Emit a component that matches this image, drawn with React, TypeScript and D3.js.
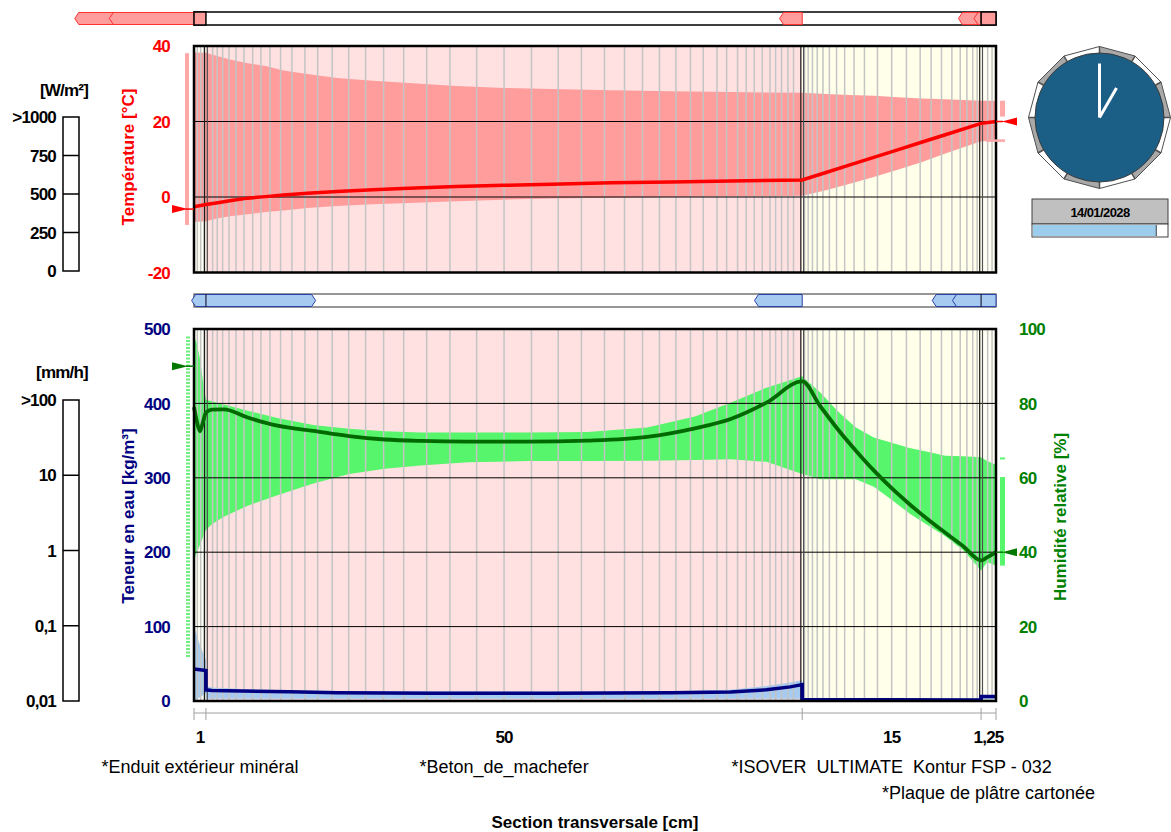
import React from "react";
import * as d3 from "d3";

// ---------------- data ----------------
const layerNames = [
  "*Enduit extérieur minéral",
  "*Beton_de_machefer",
  "*ISOVER  ULTIMATE  Kontur FSP - 032",
  "*Plaque de plâtre cartonée",
];
const layerThickness = [1, 50, 15, 1.25];
const layerTickLabels = ["1", "50", "15", "1,25"];
const layerFill = ["#FFFFF2", "#FFE1E1", "#FFFFEA", "#FFFFF4"];
const layerNameRow = [0, 0, 0, 1];

const tempTicks = [40, 20, 0, -20];
const tempGrid = [20, 0];
const wcTicks = [500, 400, 300, 200, 100, 0];
const wcGrid = [400, 300, 200, 100];
const rhTicks = [100, 80, 60, 40, 20, 0];

const radTicks = [0, 250, 500, 750, 1000];
const radLabels = ["0", "250", "500", "750", ">1000"];
const rainTicks = [0.01, 0.1, 1, 10, 100];
const rainLabels = ["0,01", "0,1", "1", "10", ">100"];

// numerical mesh (cm)
const meshLines = [
  0.28, 0.56, 0.84,
  1.56, 1.95, 2.4, 2.93, 3.52, 4.19, 4.92, 5.61, 6.37, 7.26, 8.21, 9.3, 10.37, 11.59, 12.97,
  14.39, 15.9, 17.58, 19.51, 21.46, 23.7, 26.0, 28.3, 30.54, 32.49, 34.42, 36.1, 37.61, 39.03,
  40.41, 41.63, 42.7, 43.85, 44.66, 45.58, 46.3, 46.98, 47.65, 48.3, 48.77, 49.27, 49.8, 50.27,
  51.19, 51.5, 51.86, 52.26, 52.74, 53.28, 53.88, 54.56, 55.35, 56.22, 57.31, 58.5, 59.74,
  60.89, 61.81, 62.68, 63.55, 64.25, 64.81, 65.3, 65.67,
  66.55, 66.92,
];

// temperature profile (cm, °C)
const tempPos = [0, 1, 2, 3, 4.5, 6, 7.5, 9.5, 12, 15, 18, 22, 26, 30, 35, 40, 45, 51, 53, 55, 57, 59, 61, 63, 66, 67.25];
const tempMax = [38.3, 38.2, 37.3, 36.4, 35.4, 34.7, 33.5, 32.6, 31.5, 30.8, 30.2, 29.4, 28.9, 28.6, 28.3, 28.0, 27.8, 27.6, 27.3, 27.0, 26.8, 26.4, 26.1, 25.9, 25.5, 25.5];
const tempMin = [-6.6, -6.4, -5.6, -5.1, -4.6, -4.0, -3.6, -2.9, -2.4, -1.9, -1.6, -1.1, -0.7, -0.4, -0.2, 0, 0.1, 0.3, 1.8, 3.5, 5.3, 7.2, 9.2, 11.5, 14.8, 15];
const tempNow = [-2.6, -2.0, -1.5, -1.0, -0.3, 0.1, 0.55, 1.0, 1.45, 1.9, 2.3, 2.75, 3.1, 3.4, 3.8, 4.0, 4.25, 4.5, 6.5, 8.5, 10.5, 12.5, 14.5, 16.5, 19.5, 20.0];

// relative humidity profile (cm, %)
const rhPos = [0, 0.25, 0.5, 0.75, 1, 1.5, 2.5, 4.5, 7, 10, 13, 16, 19, 23, 28, 33, 38, 42, 45, 48, 51, 52.5, 54, 55.5, 57, 58.5, 60, 61.5, 63, 64.5, 66, 66.5, 67.25];
const rhNow = [79, 75, 72.5, 75, 77.5, 78.3, 78.4, 76.2, 74, 72.6, 71.2, 70.3, 69.9, 69.7, 69.7, 70.0, 71.0, 73.3, 75.8, 80.2, 85.9, 79.3, 73, 67.3, 62.0, 57.2, 52.9, 48.9, 45.2, 41.6, 37.8, 38.6, 40];
const rhMax = [98, 96, 92, 86, 81, 80.6, 79.7, 78, 76.1, 74.2, 73.2, 72.5, 72.2, 72.2, 72.2, 72.3, 73.5, 76.5, 80.2, 84.2, 87.3, 83, 77.8, 73.5, 70.8, 69.4, 68, 67, 65.9, 65.8, 65.5, 64.5, 63.5];
const rhMin = [38, 40, 42, 44, 46, 47.5, 49.5, 52.5, 55.3, 58.5, 61, 62.4, 63.3, 64.2, 64.5, 64.5, 64.6, 64.8, 65, 64.3, 61, 59.6, 59.6, 59.6, 57.6, 54.1, 50.4, 47.3, 44.3, 40.5, 35.1, 37.3, 36.4];

// water content profile (cm, kg/m³)
const wcPos = [0, 0.5, 1, 1, 1.5, 4, 8, 12, 20, 30, 40, 45, 48, 50, 51, 51, 66, 66, 67.25];
const wcNow = [43, 42, 41, 15, 14, 13.5, 12.5, 11, 10.5, 10.5, 11, 12, 15, 19, 22, 2, 1.5, 6, 6];
const wcMax = [100, 75, 55, 20, 18, 16, 14.5, 13.5, 13, 12.5, 13, 15, 20, 25, 28, 3, 3, 8, 8];
const wcMin = [0, 5, 10, 3, 3, 3, 3, 3, 3, 3, 3, 3, 3, 3, 3, 0, 0, 2, 2];

// boundary conditions
const outdoorTempRange = [-7.4, 38.1];
const outdoorTemp = -3.2;
const indoorTempRange = [21.3, 25.5];
const indoorTempLow = 15;
const indoorTemp = 20;
const outdoorRHRange = [11.5, 98];
const outdoorRH = 90;
const indoorRHRange = [36.4, 60.2];
const indoorRHMarks = [65.2, 45.6];
const indoorRH = 40;

// flux indicators (cm)
const heatFluxStart = [-10, 49.1, 64.1];
const heatFluxEnd = [0, 51, 66];
const heatFluxHeads = [[-10, -7.1], [49.1], [64.1, 65.4]];
const heatFilledLayers = [0, 3];
const moistFluxStart = [-0.2, 47.0, 61.9];
const moistFluxEnd = [10.2, 51, 67.25];
const moistFluxHeads = [[-0.2], [47.0], [61.9, 63.6]];
const moistFluxRightTip = [true, false, false];

const dateLabel = "14/01/2028";
const progress = 0.92;
const clockHour = 1;
const clockMinute = 0;

// ---------------- component ----------------
const FONT = "'Liberation Sans', Arial, Helvetica, sans-serif";

function fluxPath(x0: number, x1: number, y0: number, y1: number, lt: boolean, rt: boolean, tip = 4) {
  const ym = (y0 + y1) / 2;
  const a = lt ? x0 + tip : x0;
  const b = rt ? x1 - tip : x1;
  let d = `M${a},${y0} L${b},${y0} `;
  d += rt ? `L${x1},${ym} L${b},${y1} ` : `L${x1},${y1} `;
  d += `L${a},${y1} `;
  d += lt ? `L${x0},${ym} Z` : "Z";
  return d;
}

export default function App() {
  const total = d3.sum(layerThickness);
  const bounds = [0, ...Array.from(d3.cumsum(layerThickness))];
  const x = d3.scaleLinear().domain([0, total]).range([194, 996]);
  const yT = d3.scaleLinear().domain([-20, 40]).range([272.5, 46]);
  const yW = d3.scaleLinear().domain([0, 500]).range([701, 329]);
  const yR = d3.scaleLinear().domain([0, 100]).range([701, 329]);
  const yRad = d3.scaleLinear().domain([0, 1000]).range([271, 117]);
  const yRain = d3.scaleLog().domain([0.01, 100]).range([701, 400]);

  const tTop = yT(40), tBot = yT(-20);
  const bTop = yW(500), bBot = yW(0);
  const X0 = x(0), X1 = x(total);

  const tBand = d3.area<number>().x((_, i) => x(tempPos[i])).y0((_, i) => yT(tempMin[i])).y1((d) => yT(d))(tempMax) || "";
  const tLine = d3.line<number>().x((_, i) => x(tempPos[i])).y((d) => yT(d))(tempNow) || "";
  const rBand = d3.area<number>().x((_, i) => x(rhPos[i])).y0((_, i) => yR(rhMin[i])).y1((d) => yR(d))(rhMax) || "";
  const rLine = d3.line<number>().x((_, i) => x(rhPos[i])).y((d) => yR(d)).curve(d3.curveMonotoneX)(rhNow) || "";
  const wBand = d3.area<number>().x((_, i) => x(wcPos[i])).y0((_, i) => yW(wcMin[i])).y1((d) => yW(d))(wcMax) || "";
  const wLine = d3.line<number>().x((_, i) => x(wcPos[i])).y((d) => yW(d))(wcNow) || "";

  const layerRects = (y0: number, y1: number) =>
    layerThickness.map((_, i) => (
      <rect key={i} x={x(bounds[i])} y={y0} width={x(bounds[i + 1]) - x(bounds[i])} height={y1 - y0} fill={layerFill[i]} />
    ));
  const mesh = (y0: number, y1: number) =>
    meshLines.map((m, i) => <line key={i} x1={x(m)} x2={x(m)} y1={y0} y2={y1} stroke="#C4C4C4" strokeWidth={1.5} />);
  const boundaryLines = (y0: number, y1: number) =>
    bounds.slice(1, -1).map((b, i) => (
      <g key={i}>
        <line x1={x(b) - 1.4} x2={x(b) - 1.4} y1={y0} y2={y1} stroke="#1a1a1a" strokeWidth={1.2} />
        <line x1={x(b) + 1.4} x2={x(b) + 1.4} y1={y0} y2={y1} stroke="#505050" strokeWidth={1.2} />
      </g>
    ));

  // clock
  const cx = 1099.5, cy = 117.5, R = 71, r = 64.5;
  const vert = (k: number, rad: number) => [cx + rad * Math.sin((k * Math.PI) / 6), cy - rad * Math.cos((k * Math.PI) / 6)];
  const minAng = (clockMinute / 60) * 2 * Math.PI;
  const hrAng = ((clockHour % 12) / 12 + clockMinute / 720) * 2 * Math.PI;

  const boldNum = { fontFamily: FONT, fontWeight: 700, fontSize: 17, letterSpacing: -0.8 } as const;

  return (
    <svg width={1171} height={832} style={{ position: "absolute", left: 0, top: 0, background: "#fff" }}>
      {/* ======== top layer bar (heat flux) ======== */}
      <rect x={X0} y={12} width={X1 - X0} height={13} fill="#fff" stroke="#000" strokeWidth={1.5} />
      {heatFluxStart.map((s, i) => (
        <g key={i}>
          <path d={fluxPath(x(s), x(heatFluxEnd[i]), 12.5, 24.5, true, false)} fill="#FF9D9D" stroke="#FF3030" strokeWidth={1} />
          {heatFluxHeads[i].slice(1).map((h, j) => (
            <path key={j} d={`M${x(h) + 4},12.5 L${x(h)},18.5 L${x(h) + 4},24.5`} fill="none" stroke="#FF3030" strokeWidth={1} />
          ))}
        </g>
      ))}
      {heatFilledLayers.map((l) => (
        <rect key={l} x={x(bounds[l])} y={12} width={x(bounds[l + 1]) - x(bounds[l])} height={13} fill="#FF9D9D" stroke="#000" strokeWidth={1.5} />
      ))}

      {/* ======== top chart ======== */}
      {layerRects(tTop, tBot)}
      <path d={tBand} fill="#FF9D9D" />
      {mesh(tTop, tBot)}
      {tempGrid.map((t) => (
        <line key={t} x1={X0} x2={X1} y1={yT(t)} y2={yT(t)} stroke="#000" strokeWidth={1} />
      ))}
      {boundaryLines(tTop, tBot)}
      <path d={tLine} fill="none" stroke="#FF0000" strokeWidth={3.5} />
      <rect x={X0} y={tTop} width={X1 - X0} height={tBot - tTop} fill="none" stroke="#000" strokeWidth={2.5} />

      {/* boundary conditions (temperature) */}
      <rect x={185} y={yT(outdoorTempRange[1])} width={4} height={yT(outdoorTempRange[0]) - yT(outdoorTempRange[1])} fill="#FFA8A8" />
      <line x1={186} x2={194} y1={yT(outdoorTemp)} y2={yT(outdoorTemp)} stroke="#FF0000" strokeWidth={1.5} />
      <path d={`M172,${yT(outdoorTemp) - 4} L188,${yT(outdoorTemp)} L172,${yT(outdoorTemp) + 4} Z`} fill="#FF0000" />
      <rect x={1000} y={yT(indoorTempRange[1])} width={5} height={yT(indoorTempRange[0]) - yT(indoorTempRange[1])} fill="#FFA8A8" />
      <rect x={986} y={yT(indoorTempLow) - 1} width={19} height={2.5} fill="#FFA8A8" />
      <line x1={996} x2={1003} y1={yT(indoorTemp)} y2={yT(indoorTemp)} stroke="#FF0000" strokeWidth={1.5} />
      <path d={`M1017,${yT(indoorTemp) - 4} L1002,${yT(indoorTemp)} L1017,${yT(indoorTemp) + 4} Z`} fill="#FF0000" />

      {/* temperature axis */}
      {tempTicks.map((t) => (
        <text key={t} x={170} y={yT(t)} dy="0.36em" textAnchor="end" fill="#FF0000" {...boldNum}>
          {t}
        </text>
      ))}
      <text transform="translate(128,157) rotate(-90)" textAnchor="middle" dy="0.36em" fill="#FF0000" fontFamily={FONT} fontWeight={700} fontSize={17}>
        Température [°C]
      </text>

      {/* radiation scale */}
      <text x={64} y={90} dy="0.36em" textAnchor="middle" fill="#000" {...boldNum}>[W/m²]</text>
      <rect x={63} y={yRad(1000)} width={16} height={yRad(0) - yRad(1000)} fill="#fff" stroke="#000" strokeWidth={1.5} />
      {radTicks.map((t, i) => (
        <g key={t}>
          {i > 0 && i < radTicks.length - 1 && <line x1={63} x2={79} y1={yRad(t)} y2={yRad(t)} stroke="#000" strokeWidth={1.5} />}
          <text x={56} y={yRad(t)} dy="0.36em" textAnchor="end" fill="#000" {...boldNum}>
            {radLabels[i]}
          </text>
        </g>
      ))}

      {/* ======== clock ======== */}
      {d3.range(12).map((k) => {
        const a = vert(k, R), b = vert(k + 1, R);
        return <path key={k} d={`M${cx},${cy} L${a[0]},${a[1]} L${b[0]},${b[1]} Z`} fill={k % 2 === 0 ? "#A9A9A9" : "#FFFFFF"} />;
      })}
      <polygon points={d3.range(12).map((k) => vert(k, R).join(",")).join(" ")} fill="none" stroke="#505050" strokeWidth={1} />
      {d3.range(12).map((k) => {
        const a = vert(k, r), b = vert(k, R);
        return <line key={k} x1={a[0]} y1={a[1]} x2={b[0]} y2={b[1]} stroke="#505050" strokeWidth={1.5} />;
      })}
      <circle cx={cx} cy={cy} r={r} fill="#1B5F87" stroke="#3a3a3a" strokeWidth={1} />
      <line x1={cx} y1={cy} x2={cx + 54 * Math.sin(minAng)} y2={cy - 54 * Math.cos(minAng)} stroke="#fff" strokeWidth={3} />
      <line x1={cx} y1={cy} x2={cx + 34 * Math.sin(hrAng)} y2={cy - 34 * Math.cos(hrAng)} stroke="#fff" strokeWidth={3} />

      <rect x={1032} y={199} width={136} height={25} fill="#C0C0C0" stroke="#404040" strokeWidth={1} />
      <text x={1100} y={212} dy="0.36em" textAnchor="middle" fontFamily={FONT} fontWeight={700} fontSize={13} letterSpacing={-0.6} fill="#000">
        {dateLabel}
      </text>
      <rect x={1032} y={224} width={136} height={13} fill="#fff" stroke="#404040" strokeWidth={1} />
      <rect x={1033} y={225} width={134 * progress} height={11} fill="#9DCDED" />
      <line x1={1033 + 134 * progress} x2={1033 + 134 * progress} y1={225} y2={236} stroke="#404040" strokeWidth={1} />

      {/* ======== bottom layer bar (moisture flux) ======== */}
      <rect x={X0} y={294} width={X1 - X0} height={13} fill="#fff" stroke="#505050" strokeWidth={1.2} />
      {moistFluxStart.map((s, i) => (
        <g key={i}>
          <path d={fluxPath(x(s), x(moistFluxEnd[i]), 294.5, 306.5, true, moistFluxRightTip[i])} fill="#A6CAF0" stroke="#2840A8" strokeWidth={1} />
          {moistFluxHeads[i].slice(1).map((h, j) => (
            <path key={j} d={`M${x(h) + 4},294.5 L${x(h)},300.5 L${x(h) + 4},306.5`} fill="none" stroke="#2840A8" strokeWidth={1} />
          ))}
        </g>
      ))}
      {[bounds[1], bounds[3]].map((b, i) => (
        <line key={i} x1={x(b)} x2={x(b)} y1={294} y2={307} stroke="#202040" strokeWidth={1.2} />
      ))}

      {/* ======== bottom chart ======== */}
      {layerRects(bTop, bBot)}
      <path d={rBand} fill="#57F56B" />
      <path d={wBand} fill="#A6CAF0" />
      {mesh(bTop, bBot)}
      {wcGrid.map((t) => (
        <line key={t} x1={X0} x2={X1} y1={yW(t)} y2={yW(t)} stroke="#000" strokeWidth={1} />
      ))}
      {boundaryLines(bTop, bBot)}
      <path d={rLine} fill="none" stroke="#006A00" strokeWidth={3.8} />
      <path d={wLine} fill="none" stroke="#000080" strokeWidth={3.5} />
      <rect x={X0} y={bTop} width={X1 - X0} height={bBot - bTop} fill="none" stroke="#000" strokeWidth={2.5} />

      {/* boundary conditions (humidity) */}
      <line x1={188} x2={188} y1={yR(outdoorRHRange[1])} y2={yR(outdoorRHRange[0])} stroke="#70EE80" strokeWidth={4} strokeDasharray="2,1.5" />
      <line x1={186} x2={194} y1={yR(outdoorRH)} y2={yR(outdoorRH)} stroke="#007800" strokeWidth={1.5} />
      <path d={`M172,${yR(outdoorRH) - 4} L188,${yR(outdoorRH)} L172,${yR(outdoorRH) + 4} Z`} fill="#007800" />
      <rect x={1000} y={yR(indoorRHRange[1])} width={5} height={yR(indoorRHRange[0]) - yR(indoorRHRange[1])} fill="#57F56B" />
      {indoorRHMarks.map((m) => (
        <rect key={m} x={1000} y={yR(m) - 1} width={5} height={2} fill="#57F56B" />
      ))}
      <line x1={996} x2={1003} y1={yR(indoorRH)} y2={yR(indoorRH)} stroke="#007800" strokeWidth={1.5} />
      <path d={`M1017,${yR(indoorRH) - 4} L1002,${yR(indoorRH)} L1017,${yR(indoorRH) + 4} Z`} fill="#007800" />

      {/* water content axis */}
      {wcTicks.map((t) => (
        <text key={t} x={170} y={yW(t)} dy="0.36em" textAnchor="end" fill="#000080" {...boldNum}>
          {t}
        </text>
      ))}
      <text transform="translate(128,516) rotate(-90)" textAnchor="middle" dy="0.36em" fill="#000080" fontFamily={FONT} fontWeight={700} fontSize={17}>
        Teneur en eau [kg/m³]
      </text>
      {/* RH axis */}
      {rhTicks.map((t) => (
        <text key={t} x={1019} y={yR(t)} dy="0.36em" textAnchor="start" fill="#008000" {...boldNum}>
          {t}
        </text>
      ))}
      <text transform="translate(1060,517) rotate(-90)" textAnchor="middle" dy="0.36em" fill="#008000" fontFamily={FONT} fontWeight={700} fontSize={17}>
        Humidité relative [%]
      </text>

      {/* rain scale */}
      <text x={62} y={372} dy="0.36em" textAnchor="middle" fill="#000" {...boldNum}>[mm/h]</text>
      <rect x={63} y={yRain(100)} width={16} height={yRain(0.01) - yRain(100)} fill="#fff" stroke="#000" strokeWidth={1.5} />
      {rainTicks.map((t, i) => (
        <g key={t}>
          {i > 0 && i < rainTicks.length - 1 && <line x1={63} x2={79} y1={yRain(t)} y2={yRain(t)} stroke="#000" strokeWidth={1.5} />}
          <text x={56} y={yRain(t)} dy="0.36em" textAnchor="end" fill="#000" {...boldNum}>
            {rainLabels[i]}
          </text>
        </g>
      ))}

      {/* ======== dimension line & layer labels ======== */}
      <line x1={X0} x2={X1} y1={713} y2={713} stroke="#A0A0A0" strokeWidth={1} />
      {bounds.map((b, i) => (
        <line key={i} x1={x(b)} x2={x(b)} y1={708} y2={720} stroke="#A0A0A0" strokeWidth={1} />
      ))}
      {layerThickness.map((_, i) => {
        const mid = (x(bounds[i]) + x(bounds[i + 1])) / 2;
        return (
          <g key={i}>
            <text x={mid} y={737} dy="0.36em" textAnchor="middle" fill="#000" {...boldNum}>
              {layerTickLabels[i]}
            </text>
            <text x={mid} y={767 + layerNameRow[i] * 26} dy="0.36em" textAnchor="middle" fill="#000" fontFamily={FONT} fontSize={18} style={{ whiteSpace: "pre" }}>
              {layerNames[i]}
            </text>
          </g>
        );
      })}
      <text x={(X0 + X1) / 2} y={822} dy="0.36em" textAnchor="middle" fill="#000" fontFamily={FONT} fontWeight={700} fontSize={17}>
        Section transversale [cm]
      </text>
    </svg>
  );
}
